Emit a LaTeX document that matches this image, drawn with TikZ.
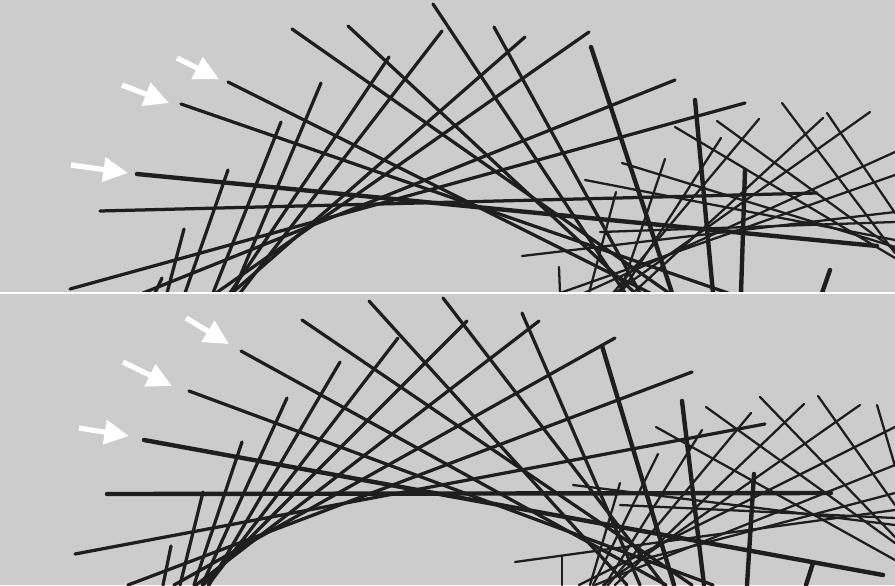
\documentclass[tikz,border=0pt]{standalone}
\usetikzlibrary{arrows.meta}
\definecolor{bggray}{RGB}{204,204,204}
\definecolor{stickgray}{RGB}{30,30,30}
\tikzset{
  stick/.style={draw=stickgray,line width=1.85pt,line cap=round},
  thickstick/.style={stick,line width=2.5pt},
  thinstick/.style={stick,line width=1.3pt},
  hint/.style={draw=white,line width=3pt,-{Triangle[length=14pt,width=13.5pt]}}
}
\begin{document}
\begin{tikzpicture}[x=0.02cm,y=-0.02cm]
\fill[bggray] (0,0) rectangle (895,585);
\useasboundingbox (0,0) rectangle (895,585);
% upper view
\begin{scope}
\clip (0,0) rectangle (895,292);
\foreach \xa/\ya/\xb/\yb in {782/103/895/253, 827/113/895/213, 717/121/895/250,
  675/127/895/258, 622/163/895/247, 585/180/895/240, 759/119/613/293,
  721/138/621/293, 665/159/620/293, 616/192/589/293, 823/118/633/293,
  870/112/615/293, 895/152/584/293, 895/175/560/293, 522/256/895/212,
  600/232/895/222, 559/267/560/293}
  \draw[thinstick] (\xa,\ya) -- (\xb,\yb);
\foreach \xa/\ya/\xb/\yb in {228/82/650/293, 181/104/728/293, 100/211/817/193,
  292/29/669/293, 348/26/635/293, 433/4/625/293, 494/27/640/293,
  70/289/745/103, 143/293/675/80, 216/293/589/32, 232/293/525/37,
  240/293/442/31, 230/293/389/57, 233/293/321/83, 213/293/281/122,
  185/293/228/170, 167/293/184/229, 155/293/162/278}
  \draw[stick] (\xa,\ya) -- (\xb,\yb);
\foreach \xa/\ya/\xb/\yb in {137/174/877/246, 591/47/672/293, 695/100/713/293,
  745/170/741/293, 830/270/822/293}
  \draw[thickstick] (\xa,\ya) -- (\xb,\yb);
\end{scope}
\draw[hint] (177,58) -- (219,79);
\draw[hint] (122,85) -- (169,103);
\draw[hint] (71,165) -- (128,173);
\draw[white,line width=0.6pt] (0,293) -- (895,293);
% lower view
\begin{scope}
\clip (0,294) rectangle (895,585);
\foreach \xa/\ya/\xb/\yb in {760/397/895/537, 818/396/895/505, 706/407/895/543,
  656/427/895/560, 877/405/895/466, 573/485/895/525, 804/404/615/585,
  860/405/603/585, 751/413/608/585, 702/430/605/585, 658/454/593/585,
  620/483/590/585, 895/427/579/585, 895/465/595/585, 895/493/640/560,
  515/562/895/510, 562/557/562/585, 620/505/895/518}
  \draw[thinstick] (\xa,\ya) -- (\xb,\yb);
\foreach \xa/\ya/\xb/\yb in {241/351/666/585, 189/391/713/585, 302/320/692/585,
  369/301/627/585, 443/298/664/585, 522/313/640/585, 75/554/765/424,
  128/585/692/372, 174/585/615/338, 196/585/539/321, 203/585/467/321,
  208/585/398/338, 209/585/340/362, 202/585/287/398, 194/585/242/442,
  180/585/203/492, 163/585/171/546}
  \draw[stick] (\xa,\ya) -- (\xb,\yb);
\foreach \xa/\ya/\xb/\yb in {144/440/883/575, 107/494/831/493, 602/346/674/585,
  682/401/704/585, 754/474/747/585, 813/563/806/585}
  \draw[thickstick] (\xa,\ya) -- (\xb,\yb);
\end{scope}
\draw[hint] (186,318) -- (229,344);
\draw[hint] (123,362) -- (172,386);
\draw[hint] (79,428) -- (129,436);
\end{tikzpicture}
\end{document}
